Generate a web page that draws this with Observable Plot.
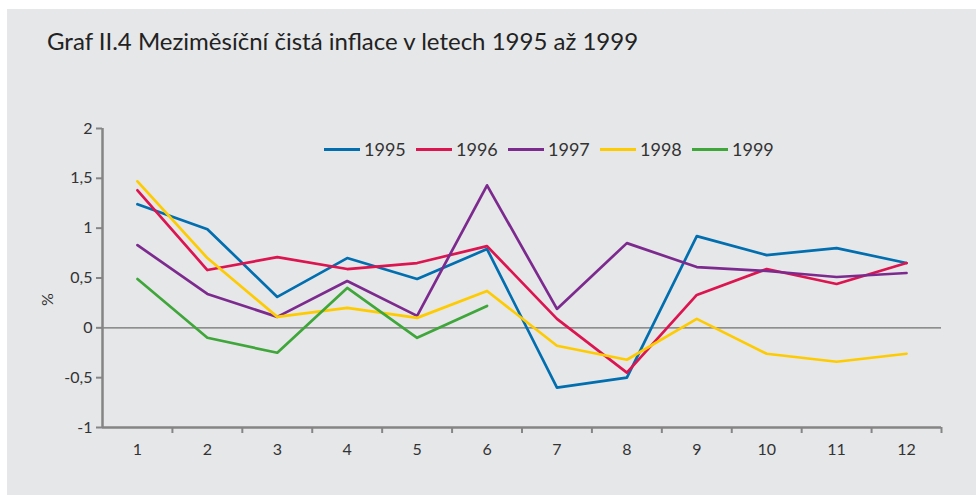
<!DOCTYPE html>
<html><head><meta charset="utf-8">
<script src="https://cdn.jsdelivr.net/npm/d3@7"></script>
<script src="https://cdn.jsdelivr.net/npm/@observablehq/plot@0.6"></script>
<style>
body{margin:0;background:#fff;width:976px;height:495px;overflow:hidden;position:relative;font-family:Lato,sans-serif}
#panel{position:absolute;left:7px;top:9px;width:969px;height:486px;background:#e6e7e9}
#chart{position:absolute;left:0;top:0}
#title{position:absolute;left:47px;top:26px;font-size:24px;color:#222;white-space:nowrap}
#ylab{position:absolute;left:40px;top:290px;font-size:16px;transform:rotate(-90deg);color:#333}
#legend{position:absolute;left:324px;top:138px;display:flex}
.item{width:92px;display:flex;align-items:center;font-size:18px;color:#333}
.sw{width:36px;height:3px;margin-right:4px}
</style></head><body>
<div id="panel"></div>
<div id="chart"></div>
<div id="title">Graf II.4 Meziměsíční čistá inflace v letech 1995 až 1999</div>
<div id="ylab">%</div>
<div id="legend"></div>
<script>
const months = [1, 2, 3, 4, 5, 6, 7, 8, 9, 10, 11, 12];
const years = ["1995", "1996", "1997", "1998", "1999"];
const colors = ["#006eaf", "#dc1450", "#7d2a8f", "#fecb00", "#3fa63a"];
const v1995 = [1.24, 0.99, 0.31, 0.70, 0.49, 0.79, -0.60, -0.50, 0.92, 0.73, 0.80, 0.65];
const v1996 = [1.38, 0.58, 0.71, 0.59, 0.65, 0.82, 0.09, -0.45, 0.33, 0.59, 0.44, 0.65];
const v1997 = [0.83, 0.34, 0.11, 0.47, 0.12, 1.43, 0.19, 0.85, 0.61, 0.57, 0.51, 0.55];
const v1998 = [1.47, 0.70, 0.11, 0.20, 0.10, 0.37, -0.18, -0.32, 0.09, -0.26, -0.34, -0.26];
const v1999 = [0.49, -0.10, -0.25, 0.40, -0.10, 0.22];
const yTicks = [-1, -0.5, 0, 0.5, 1, 1.5, 2];

const series = [v1995, v1996, v1997, v1998, v1999];
const data = years.flatMap((y, i) => series[i].map((v, j) => ({year: y, month: months[j], value: v})));
const boundaries = months.map(m => m + 0.5);
const fmt = d => String(d).replace(".", ",");

const plot = Plot.plot({
  width: 976, height: 495,
  marginTop: 128, marginBottom: 68, marginLeft: 102, marginRight: 35,
  style: {background: "transparent", fontFamily: "Lato, sans-serif", fontSize: "16px", color: "#333"},
  x: {type: "linear", domain: [0.5, 12.5], label: null},
  y: {domain: [-1, 2], label: null},
  color: {domain: years, range: colors},
  marks: [
    Plot.ruleY([0], {stroke: "#707070", strokeWidth: 1.2}),
    Plot.line(data, {x: "month", y: "value", z: "year", stroke: "year", strokeWidth: 2.7}),
    Plot.ruleX([0.5], {stroke: "#858585", strokeWidth: 2.5}),
    Plot.ruleY([-1], {stroke: "#858585", strokeWidth: 2.5}),
    Plot.axisY({ticks: yTicks, tickSize: 6, tickPadding: 4, stroke: "#858585", strokeWidth: 2, fill: "#333", tickFormat: fmt, label: null}),
    Plot.axisX({ticks: boundaries, tickSize: 6, stroke: "#858585", strokeWidth: 2, tickFormat: () => "", label: null}),
    Plot.axisX({ticks: months, tickSize: 0, tickPadding: 16, fill: "#333", label: null})
  ]
});
document.getElementById("chart").appendChild(plot);

const legend = document.getElementById("legend");
years.forEach((y, i) => {
  const it = document.createElement("div"); it.className = "item";
  const sw = document.createElement("div"); sw.className = "sw"; sw.style.background = colors[i];
  const t = document.createElement("span"); t.textContent = y;
  it.appendChild(sw); it.appendChild(t); legend.appendChild(it);
});
</script>
</body></html>
